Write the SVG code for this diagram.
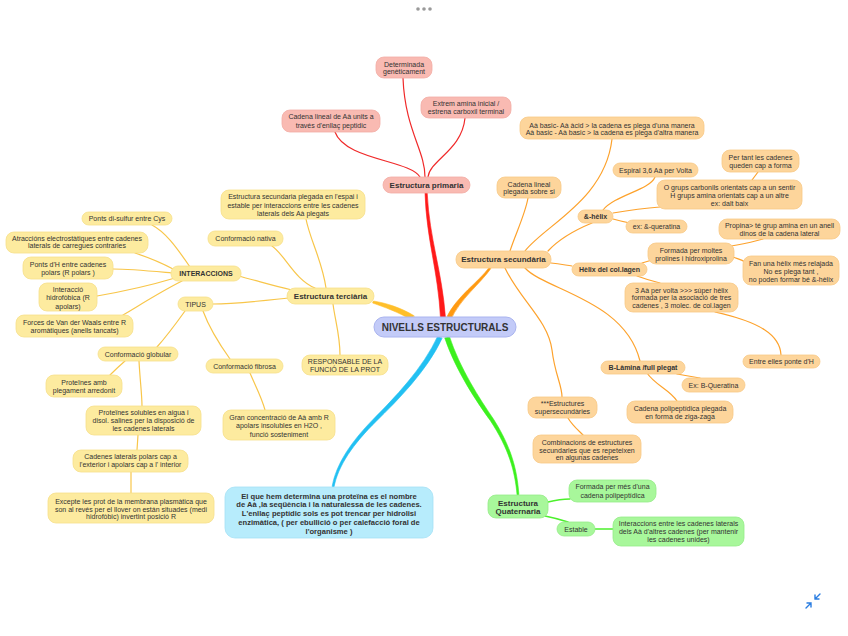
<svg xmlns="http://www.w3.org/2000/svg" width="848" height="636" viewBox="0 0 848 636">
<style>
text{font-family:"Liberation Sans",Arial,Helvetica,sans-serif;fill:#333;text-anchor:middle}
.t{font-size:7px}
.b{font-size:7px;font-weight:bold}
.h{font-size:8px;font-weight:bold}
.r rect{fill:#f9bab2;stroke:#f2aca4;stroke-width:.8}
.y rect{fill:#fdeb9f;stroke:#f6df8a;stroke-width:.8}
.o rect{fill:#fdd59b;stroke:#f7c987;stroke-width:.8}
.g rect{fill:#a8f79b;stroke:#95ec88;stroke-width:.8}
.bl rect{fill:#b7ecfc;stroke:#a4e1f5;stroke-width:.8}
.cn rect{fill:#c3cbf8;stroke:#aab4ef;stroke-width:1}
#connectors path{stroke-linecap:round}
#connectors .lr,#connectors .ly,#connectors .lo,#connectors .lg{fill:none}
.lr{stroke:#f02a2a;stroke-width:1.2}
.ly{stroke:#f8c64a;stroke-width:1.2}
.lo{stroke:#fda22c;stroke-width:1.2}
.lg{stroke:#4cf02c;stroke-width:1.4}
.th{stroke-width:.6;stroke-linejoin:round}
</style>
<rect width="848" height="636" fill="#fff"/>
<g id="connectors">
<path class="th" fill="#ff1a1a" stroke="#ff1a1a" d="M440.5,318 C438,270 426.5,240 425,193 L427.2,193 C429.5,240 442,270 445.5,318 Z"/>
<path class="th" fill="#ffbf2a" stroke="#ffbf2a" d="M414,315.7 C401,307.7 386,303 373.4,301 L372.6,303 C384,307 399,312.3 412,320.3 Z"/>
<path class="th" fill="#ff9a12" stroke="#ff9a12" d="M447.1,316.4 C456.5,296.6 479.2,281.3 489.2,267.4 L490.8,268.6 C481,283 459.5,299.4 450.9,319.6 Z"/>
<path class="th" fill="#22c0f2" stroke="#22c0f2" d="M442,338.5 C426.8,371.4 396.6,401.2 376.5,421 C353.3,443.8 338,465.6 333.9,487.5 L332.1,486.5 C336,464.4 350.7,442.2 373.5,419 C393.4,398.8 423.2,368.6 438,335.5 Z"/>
<path class="th" fill="#3cf01e" stroke="#3cf01e" d="M449.2,335.8 C460,368.9 479.8,399 493.6,419.3 C511.4,447.5 517.1,469.6 518.9,494.7 L517.1,495.3 C514.9,470.4 508.6,448.5 490.4,420.7 C476.2,401 456,371.1 444.8,338.2 Z"/>
<path class="lr" d="M403,78 C405,130 425,150 425,177"/>
<path class="lr" d="M465,118 C462,150 430,160 428,177"/>
<path class="lr" d="M335,132 C345,160 410,160 420,177"/>
<path class="ly" d="M326,288 C322,260 310,240 306,219"/>
<path class="ly" d="M315,288 C295,280 285,255 272,246"/>
<path class="ly" d="M292,290 C270,285 255,280 238,276"/>
<path class="ly" d="M288,298 C260,301 235,304 213,304"/>
<path class="ly" d="M333,304 C335,320 340,335 340,355"/>
<path class="ly" d="M190,267 C175,245 165,232 152,225"/>
<path class="ly" d="M173,269 C160,262 150,258 135,253"/>
<path class="ly" d="M172,273 C150,271 130,269 113,269"/>
<path class="ly" d="M175,278 C145,287 120,292 97,296"/>
<path class="ly" d="M182,281 C160,292 140,305 123,315"/>
<path class="ly" d="M185,311 C175,325 165,338 157,347"/>
<path class="ly" d="M203,311 C210,330 220,345 230,359"/>
<path class="ly" d="M125,361 C118,367 114,371 110,375"/>
<path class="ly" d="M139,361 C140,380 142,395 142,406"/>
<path class="ly" d="M138,435 L137,450"/>
<path class="ly" d="M131,472 L131,493"/>
<path class="ly" d="M250,373 C255,385 262,398 265,410"/>
<path class="lo" d="M525,251 C545,225 605,200 612,139"/>
<path class="lo" d="M510,251 C515,235 525,215 528,198"/>
<path class="lo" d="M548,251 C560,238 575,230 592,223"/>
<path class="lo" d="M551,263 C560,264 565,265 572,266"/>
<path class="lo" d="M525,268 C545,290 625,300 640,361"/>
<path class="lo" d="M505,268 C520,300 548,320 552,350 C555,375 562,385 562,397"/>
<path class="lo" d="M603,210 C615,195 650,190 655,177"/>
<path class="lo" d="M613,213 C630,210 645,208 660,207"/>
<path class="lo" d="M613,219 C620,221 625,222 630,223"/>
<path class="lo" d="M752,180 L758,172"/>
<path class="lo" d="M642,263 L652,260"/>
<path class="lo" d="M731,246 C745,244 755,241 763,239"/>
<path class="lo" d="M733,257 C738,259 742,260 745,262"/>
<path class="lo" d="M637,276 C645,279 652,281 660,283"/>
<path class="lo" d="M715,312 C760,322 780,335 781,355"/>
<path class="lo" d="M677,374 C687,376 694,377 700,378"/>
<path class="lo" d="M647,373 C655,385 670,390 677,401"/>
<path class="lo" d="M568,418 C572,425 578,430 583,435"/>
<path class="lg" d="M548,502 C556,500 562,499 570,499"/>
<path class="lg" d="M545,516 C555,518 562,520 568,522"/>
<path class="lg" d="M595,529 L613,529"/>
</g>

<g id="central" class="cn"><rect x="374" y="317" width="142" height="20" rx="10"/><text x="445" y="330.5" style="font-size:10px;font-weight:bold">NIVELLS ESTRUCTURALS</text></g>

<g id="primaria" class="r"><rect x="383" y="177" width="87" height="16" rx="8"/><text class="h" x="426.5" y="188">Estructura primaria</text></g>
<g id="determinada" class="r"><rect x="376" y="57" width="56" height="21" rx="8"/><text class="t"><tspan x="404" y="66.5">Determinada</tspan><tspan x="404" y="74">genèticament</tspan></text></g>
<g id="extrem" class="r"><rect x="421" y="97" width="90" height="21" rx="8"/><text class="t"><tspan x="466" y="106.2">Extrem amina inicial /</tspan><tspan x="466" y="114.2">estrena carboxil terminal</tspan></text></g>
<g id="cadena-lineal" class="r"><rect x="282" y="110" width="98" height="22" rx="8"/><text class="t"><tspan x="331" y="119.2">Cadena lineal de Aà units a</tspan><tspan x="331" y="127.8">través d'enllaç peptidic</tspan></text></g>

<g id="terciaria" class="y"><rect x="287" y="288" width="87" height="16" rx="8"/><text class="h" x="330.5" y="298.8">Estructura terciària</text></g>
<g id="sec-plegada" class="y"><rect x="221" y="190" width="144" height="29" rx="8"/><text class="t"><tspan x="293" y="199.2">Estructura secundaria plegada en l'espai i</tspan><tspan x="293" y="207.5">estable per interaccions entre les cadenes</tspan><tspan x="293" y="215.8">laterals dels Aà plegats</tspan></text></g>
<g id="nativa" class="y"><rect x="208" y="231" width="75" height="15" rx="7"/><text class="t" x="245.5" y="241">Conformació nativa</text></g>
<g id="interaccions" class="y"><rect x="171" y="266" width="70" height="15" rx="7"/><text class="b" x="206" y="276">INTERACCIONS</text></g>
<g id="tipus" class="y"><rect x="178" y="297" width="35" height="14" rx="7"/><text class="t" x="195.5" y="306.5">TIPUS</text></g>
<g id="responsable" class="y"><rect x="302" y="355" width="86" height="20" rx="8"/><text class="t"><tspan x="345" y="363.8">RESPONSABLE DE LA</tspan><tspan x="345" y="371.8">FUNCIÓ DE LA PROT</tspan></text></g>
<g id="disulfur" class="y"><rect x="82" y="212" width="90" height="13" rx="6.5"/><text class="t" x="127" y="221">Ponts di-sulfur entre Cys</text></g>
<g id="atraccions" class="y"><rect x="6" y="232" width="142" height="21" rx="8"/><text class="t"><tspan x="77" y="240.8">Atraccións electrostàtiques entre cadenes</tspan><tspan x="77" y="248.2">laterals de carregues contraries</tspan></text></g>
<g id="pontsH" class="y"><rect x="23" y="257" width="90" height="22" rx="8"/><text class="t"><tspan x="68" y="266.8">Ponts d'H entre cadenes</tspan><tspan x="68" y="274.8">polars (R polars )</tspan></text></g>
<g id="hidrofobica" class="y"><rect x="39" y="283" width="58" height="28" rx="8"/><text class="t"><tspan x="68" y="291.8">Interacció</tspan><tspan x="68" y="300.2">hidrofòbica (R</tspan><tspan x="68" y="308.5">apolars)</tspan></text></g>
<g id="vanderwaals" class="y"><rect x="16" y="315" width="117" height="22" rx="8"/><text class="t"><tspan x="74.5" y="324.8">Forces de Van der Waals entre R</tspan><tspan x="74.5" y="332.5">aromàtiques (anells tancats)</tspan></text></g>
<g id="globular" class="y"><rect x="98" y="347" width="80" height="14" rx="7"/><text class="t" x="138" y="356.5">Conformació globular</text></g>
<g id="fibrosa" class="y"><rect x="206" y="359" width="77" height="14" rx="7"/><text class="t" x="244.5" y="368.5">Conformació fibrosa</text></g>
<g id="arredonit" class="y"><rect x="46" y="375" width="76" height="22" rx="8"/><text class="t"><tspan x="84" y="385.2">Proteïnes amb</tspan><tspan x="84" y="393.2">plegament arredonit</tspan></text></g>
<g id="solubles" class="y"><rect x="86" y="406" width="115" height="29" rx="8"/><text class="t"><tspan x="143.5" y="415.2">Proteïnes solubles en aigua i</tspan><tspan x="143.5" y="423.2">disol. salines per la disposició de</tspan><tspan x="143.5" y="431.2">les cadenes laterals</tspan></text></g>
<g id="polars" class="y"><rect x="73" y="450" width="115" height="22" rx="8"/><text class="t"><tspan x="130.5" y="459.2">Cadenes laterals polars cap a</tspan><tspan x="130.5" y="466.8">l'exterior i apolars cap a l' interior</tspan></text></g>
<g id="excepte" class="y"><rect x="48" y="493" width="166" height="30" rx="8"/><text class="t"><tspan x="131" y="504.2">Excepte les prot de la membrana plasmàtica que</tspan><tspan x="131" y="511.8">son al revés per el llover on están situades (medi</tspan><tspan x="131" y="519.2">hidrofòbic) invertint posició R</tspan></text></g>
<g id="gran" class="y"><rect x="223" y="410" width="112" height="30" rx="8"/><text class="t"><tspan x="279" y="419.8">Gran concentració de Aà amb R</tspan><tspan x="279" y="428.2">apolars insolubles en H2O ,</tspan><tspan x="279" y="436.5">funció sosteniment</tspan></text></g>

<g id="blue-note" class="bl"><rect x="225" y="487" width="208" height="51" rx="10"/><text style="font-size:7.6px;font-weight:bold"><tspan x="329" y="498.7">El que hem determina una proteïna es el nombre</tspan><tspan x="329" y="507.4">de Aà ,la seqüència i la naturalessa de les cadenes.</tspan><tspan x="329" y="516.1">L'enllaç peptídic sols es pot trencar per hidrolisi</tspan><tspan x="329" y="524.8">enzimàtica, ( per ebullició o per calefacció foral de</tspan><tspan x="329" y="533.5">l'organisme )</tspan></text></g>

<g id="secundaria" class="o"><rect x="456" y="251" width="95" height="17" rx="8"/><text class="h" x="503.5" y="262.3">Estructura secundària</text></g>
<g id="aa-basic" class="o"><rect x="520" y="117" width="184" height="22" rx="8"/><text class="t"><tspan x="612" y="127.5">Aà basic- Aà àcid &gt; la cadena es plega d'una manera</tspan><tspan x="612" y="135.2">Aà basic - Aà basic &gt; la cadena es plega d'altra manera</tspan></text></g>
<g id="plegada-si" class="o"><rect x="497" y="177" width="64" height="21" rx="8"/><text class="t"><tspan x="529" y="186.5">Cadena lineal</tspan><tspan x="529" y="194.2">plegada sobre si</tspan></text></g>
<g id="alfa-helix" class="o"><rect x="578" y="210" width="35" height="13" rx="6.5"/><text class="b" x="595.5" y="219">&amp;-hèlix</text></g>
<g id="espiral" class="o"><rect x="613" y="163" width="85" height="14" rx="7"/><text class="t" x="655.5" y="172.5">Espiral 3,6 Aà per Volta</text></g>
<g id="grups" class="o"><rect x="657" y="180" width="145" height="29" rx="8"/><text class="t"><tspan x="729.5" y="190.2">O grups carbonils orientats cap a un sentir</tspan><tspan x="729.5" y="197.8">H grups amina orientats cap a un altre</tspan><tspan x="729.5" y="205.5">ex: dalt baix</tspan></text></g>
<g id="pertant" class="o"><rect x="722" y="150" width="77" height="22" rx="8"/><text class="t"><tspan x="760.5" y="159.8">Per tant les cadenes</tspan><tspan x="760.5" y="167.5">queden cap a forma</tspan></text></g>
<g id="queratina" class="o"><rect x="626" y="220" width="61" height="13" rx="6.5"/><text class="t" x="656.5" y="229">ex: &amp;-queratina</text></g>
<g id="collagen" class="o"><rect x="572" y="263" width="75" height="13" rx="6.5"/><text class="b" x="609.5" y="272">Hèlix del col.lagen</text></g>
<g id="prolines" class="o"><rect x="648" y="243" width="86" height="21" rx="8"/><text class="t"><tspan x="691" y="252.5">Formada per moltes</tspan><tspan x="691" y="260.8">prolines i hidroxiprolina</tspan></text></g>
<g id="propina" class="o"><rect x="719" y="219" width="121" height="20" rx="8"/><text class="t"><tspan x="779.5" y="227.5">Propina&gt; té grup amina en un anell</tspan><tspan x="779.5" y="235.8">dinos de la cadena lateral</tspan></text></g>
<g id="relajada" class="o"><rect x="743" y="256" width="96" height="29" rx="8"/><text class="t"><tspan x="791" y="265.8">Fan una hèlix més relajada</tspan><tspan x="791" y="274">No es plega tant ,</tspan><tspan x="791" y="281.8">no poden formar bé &amp;-hèlix</tspan></text></g>
<g id="super-helix" class="o"><rect x="625" y="283" width="113" height="29" rx="8"/><text class="t"><tspan x="681.5" y="292.5">3 Aà per volta &gt;&gt;&gt; súper hèlix</tspan><tspan x="681.5" y="300.2">formada per la asociació de tres</tspan><tspan x="681.5" y="308.2">cadenes , 3 molec. de col.lagen</tspan></text></g>
<g id="pontH2" class="o"><rect x="743" y="355" width="77" height="13" rx="6.5"/><text class="t" x="781.5" y="364">Entre elles ponte d'H</text></g>
<g id="blamina" class="o"><rect x="601" y="361" width="84" height="13" rx="6.5"/><text class="b" x="643" y="370">B-Làmina /full plegat</text></g>
<g id="bqueratina" class="o"><rect x="682" y="378" width="63" height="14" rx="7"/><text class="t" x="713.5" y="387.5">Ex: B-Queratina</text></g>
<g id="zigazaga" class="o"><rect x="627" y="401" width="106" height="22" rx="8"/><text class="t"><tspan x="680" y="410.8">Cadena polipeptídica plegada</tspan><tspan x="680" y="419.2">en forma de ziga-zaga</tspan></text></g>
<g id="supersec" class="o"><rect x="528" y="397" width="69" height="21" rx="8"/><text class="t"><tspan x="562.5" y="405.8">***Estructures</tspan><tspan x="562.5" y="414.2">supersecundàries</tspan></text></g>
<g id="combinacions" class="o"><rect x="533" y="435" width="108" height="28" rx="8"/><text class="t"><tspan x="587" y="444.8">Combinacions de estructures</tspan><tspan x="587" y="452.5">secundaries que es repeteixen</tspan><tspan x="587" y="460.2">en algunas cadenes</tspan></text></g>

<g id="quaternaria" class="g"><rect x="488" y="495" width="60" height="23" rx="8"/><text class="h"><tspan x="518" y="505.5">Estructura</tspan><tspan x="518" y="514.2">Quaternaria</tspan></text></g>
<g id="mes-una" class="g"><rect x="569" y="480" width="87" height="22" rx="8"/><text class="t"><tspan x="612.5" y="489.2">Formada per més d'una</tspan><tspan x="612.5" y="497.5">cadena polipeptídica</tspan></text></g>
<g id="estable" class="g"><rect x="557" y="522" width="38" height="14" rx="7"/><text class="t" x="576" y="531.5">Estable</text></g>
<g id="interaccions-q" class="g"><rect x="613" y="517" width="131" height="29" rx="8"/><text class="t"><tspan x="678.5" y="525.8">Interaccions entre les cadenes laterals</tspan><tspan x="678.5" y="534.2">dels Aà d'altres cadenes (per mantenir</tspan><tspan x="678.5" y="542.2">les cadenes unides)</tspan></text></g>

<g id="ui-dots" fill="#9a9a9a"><circle cx="418" cy="9" r="1.8"/><circle cx="424" cy="9" r="1.8"/><circle cx="430" cy="9" r="1.8"/></g>
<g id="ui-icon" fill="none" stroke="#2a7de1" stroke-width="1.4" stroke-linecap="round"><path d="M820,594 L815,599 M815,595 L815,599 L819,599"/><path d="M806,608 L811,603 M807,603 L811,603 L811,607"/></g>
</svg>
